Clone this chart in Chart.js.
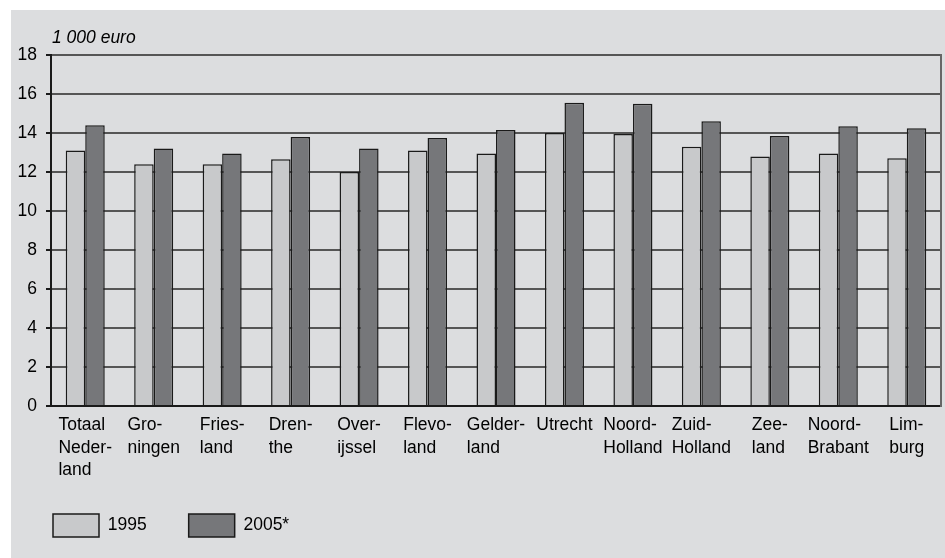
<!DOCTYPE html>
<html>
<head>
<meta charset="utf-8">
<script src="https://cdn.jsdelivr.net/npm/chart.js@4"></script>
<style>
  html, body { margin: 0; padding: 0; background: #fff; }
  #wrap { position: absolute; left: 11px; top: 10px; width: 934px; height: 548px; background: #dcdddf; }
</style>
</head>
<body>
<div id="wrap"><canvas id="inkomen"></canvas></div>
<script>
// regions, each label split in lines
var regions = [
  ['Totaal', 'Neder-', 'land'], ['Gro-', 'ningen'], ['Fries-', 'land'], ['Dren-', 'the'],
  ['Over-', 'ijssel'], ['Flevo-', 'land'], ['Gelder-', 'land'], ['Utrecht'],
  ['Noord-', 'Holland'], ['Zuid-', 'Holland'], ['Zee-', 'land'], ['Noord-', 'Brabant'], ['Lim-', 'burg']
];
var v1995 = [13.1, 12.4, 12.4, 12.65, 12.0, 13.1, 12.95, 14.0, 13.95, 13.3, 12.8, 12.95, 12.7];
var v2005 = [14.4, 13.2, 12.95, 13.8, 13.2, 13.75, 14.15, 15.55, 15.5, 14.6, 13.85, 14.35, 14.25];
var yTicks = [0, 2, 4, 6, 8, 10, 12, 14, 16, 18];
var unitLabel = '1 000 euro';

var FONT = "'Liberation Sans', Arial, Helvetica, sans-serif";

// x labels are left aligned inside a centred block, so draw them here
var labelPlugin = {
  id: 'labels',
  afterDraw: function(chart) {
    var ctx = chart.ctx;
    var xs = chart.scales.x;
    var area = chart.chartArea;
    ctx.save();
    ctx.fillStyle = '#000';
    ctx.font = '17.5px ' + FONT;
    ctx.textAlign = 'left';
    ctx.textBaseline = 'alphabetic';
    regions.forEach(function(lines, i) {
      var w = 0;
      lines.forEach(function(l) { w = Math.max(w, ctx.measureText(l).width); });
      var x0 = xs.getPixelForValue(i) - w / 2;
      lines.forEach(function(l, j) {
        ctx.fillText(l, x0, area.bottom + 24 + j * 22.5);
      });
    });
    ctx.font = 'italic 17.5px ' + FONT;
    ctx.fillText(unitLabel, area.left + 1, area.top - 12);
    ctx.restore();
  }
};

var ctx = document.getElementById('inkomen').getContext('2d');
var chart = new Chart(ctx, {
  type: 'bar',
  data: {
    labels: regions.map(function(r) { return r.join(' '); }),
    datasets: [{
      label: '1995',
      data: v1995,
      backgroundColor: '#c8c9cb',
      borderColor: '#1a1a1a',
      borderWidth: 1.5
    }, {
      label: '2005*',
      data: v2005,
      backgroundColor: '#76777a',
      borderColor: '#1a1a1a',
      borderWidth: 1.5
    }]
  },
  options: {
    responsive: true,
    maintainAspectRatio: false,
    animation: false,
    datasets: {
      bar: { categoryPercentage: 0.57, barPercentage: 1.0 }
    },
    layout: { padding: { top: 45, right: 4, bottom: 11, left: 0 } },
    plugins: {
      tooltip: { enabled: false },
      legend: {
        position: 'bottom',
        align: 'start',
        labels: {
          boxWidth: 46,
          boxHeight: 23,
          padding: 42,
          color: '#000',
          font: { family: FONT, size: 17.5 }
        }
      }
    },
    scales: {
      x: {
        grid: { display: false },
        border: { display: true, color: '#1a1a1a', width: 2 },
        ticks: { display: false },
        afterFit: function(s) { s.height = 66; }
      },
      y: {
        min: 0,
        max: 18,
        afterBuildTicks: function(s) { s.ticks = yTicks.map(function(v) { return { value: v }; }); },
        afterFit: function(s) { s.width = 40; },
        grid: { color: '#555', lineWidth: 2, tickLength: 5, tickColor: '#1a1a1a' },
        border: { display: true, color: '#1a1a1a', width: 2 },
        ticks: { color: '#000', padding: 9, font: { family: FONT, size: 17.5 } }
      },
      yRight: {
        position: 'right',
        min: 0,
        max: 18,
        grid: { display: false, drawTicks: false },
        ticks: { display: false },
        border: { display: true, color: '#666', width: 2 }
      }
    }
  },
  plugins: [labelPlugin]
});
</script>
</body>
</html>
